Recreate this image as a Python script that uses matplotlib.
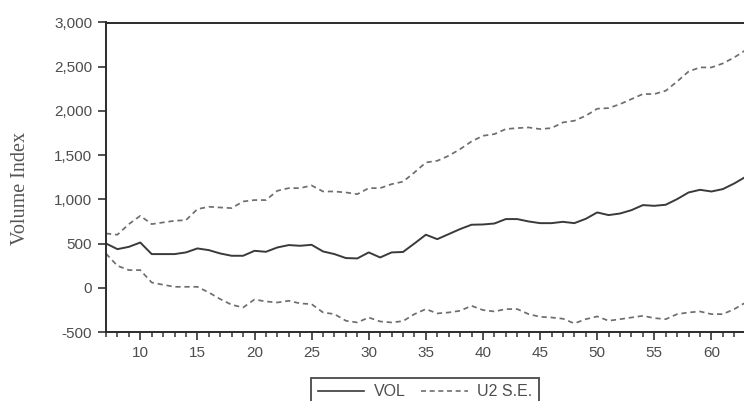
import matplotlib
matplotlib.use("Agg")
import matplotlib.pyplot as plt
from matplotlib.ticker import MultipleLocator, FuncFormatter
from matplotlib.lines import Line2D

# Observation index
periods = list(range(7, 64))

# Volume index
vol = [501, 437, 463, 512, 381, 381, 381, 400, 445, 426,
       388, 362, 362, 418, 407, 456, 483, 475, 486, 411,
       381, 336, 332, 400, 343, 400, 405, 501, 600, 550,
       607, 664, 713, 716, 727, 777, 777, 750, 731, 731,
       746, 731, 780, 852, 822, 840, 878, 935, 927, 939,
       1003, 1078, 1108, 1089, 1116, 1180, 1255]

# Upper and lower two-standard-error bands
upper = [614, 600, 720, 814, 720, 739, 758, 765, 890, 916,
         908, 901, 976, 992, 992, 1097, 1127, 1127, 1157, 1089,
         1089, 1078, 1059, 1127, 1127, 1172, 1200, 1304, 1417, 1436,
         1493, 1568, 1655, 1719, 1738, 1795, 1806, 1813, 1795, 1806,
         1870, 1889, 1945, 2025, 2032, 2077, 2134, 2191, 2191, 2228,
         2333, 2446, 2492, 2492, 2537, 2605, 2688]
lower = [386, 249, 200, 200, 60, 34, 11, 11, 11, -53,
         -128, -192, -223, -132, -155, -166, -147, -177, -185, -279,
         -298, -373, -392, -336, -381, -392, -377, -298, -241, -290,
         -279, -260, -204, -252, -268, -241, -241, -298, -328, -336,
         -350, -403, -355, -324, -373, -355, -336, -317, -343, -355,
         -298, -279, -268, -298, -298, -241, -166]

W, H = 744, 401
fig = plt.figure(figsize=(W / 100, H / 100), dpi=100)
fig.patch.set_facecolor("white")

x0, x1 = 106, 745.7
y_top, y_bot = 22.5, 332
ax = fig.add_axes([x0 / W, 1 - y_bot / H, (x1 - x0) / W, (y_bot - y_top) / H])

line_col = "#3a3a3a"
band_col = "#6e6e6e"
ax.plot(periods, vol, color=line_col, lw=1.4, solid_joinstyle="round")
dash = (0, (3.0, 2.2))
ax.plot(periods, upper, color=band_col, lw=1.25, linestyle=dash)
ax.plot(periods, lower, color=band_col, lw=1.25, linestyle=dash)

ax.set_xlim(7, 63)
ax.set_ylim(-500, 3000)

ax.xaxis.set_major_locator(MultipleLocator(5))
ax.xaxis.set_minor_locator(MultipleLocator(1))
ax.yaxis.set_major_locator(MultipleLocator(500))
ax.yaxis.set_major_formatter(FuncFormatter(lambda v, p: f"{int(v):,}"))

tick_font = "Liberation Sans"
label_col = "#4d4d4d"
ax.tick_params(axis="both", which="major", direction="out", length=6,
               width=1.2, color="#333333", labelcolor=label_col,
               labelsize=11, pad=4)
ax.tick_params(axis="x", which="minor", direction="out", length=3.5,
               width=1.1, color="#333333")
ax.tick_params(axis="y", which="minor", left=False)
for lab in ax.get_xticklabels() + ax.get_yticklabels():
    lab.set_fontfamily(tick_font)

for side in ("left", "top", "bottom", "right"):
    ax.spines[side].set_color("#2b2b2b")
    ax.spines[side].set_linewidth(1.4)

fig.text(21 / W, 1 - 188 / H, "Volume Index", rotation=90,
         ha="center", va="center", fontsize=14.5,
         family="Liberation Serif", color="#555555")

handles = [Line2D([], [], color=line_col, lw=1.2),
           Line2D([], [], color=band_col, lw=1.2, linestyle=dash)]
leg = fig.legend(handles, ["VOL", "U2 S.E."], loc="upper center",
                 bbox_to_anchor=(425 / W, 1 - 378 / H), ncol=2,
                 frameon=True, fancybox=False, shadow=False,
                 prop={"family": tick_font, "size": 11.5},
                 handlelength=2.9, handletextpad=0.6, columnspacing=1.0,
                 borderpad=0.4, borderaxespad=0)
leg.get_frame().set_edgecolor("#2b2b2b")
leg.get_frame().set_linewidth(1.4)
for txt in leg.get_texts():
    txt.set_color(label_col)

fig.savefig("out.png", dpi=100, facecolor="white")
